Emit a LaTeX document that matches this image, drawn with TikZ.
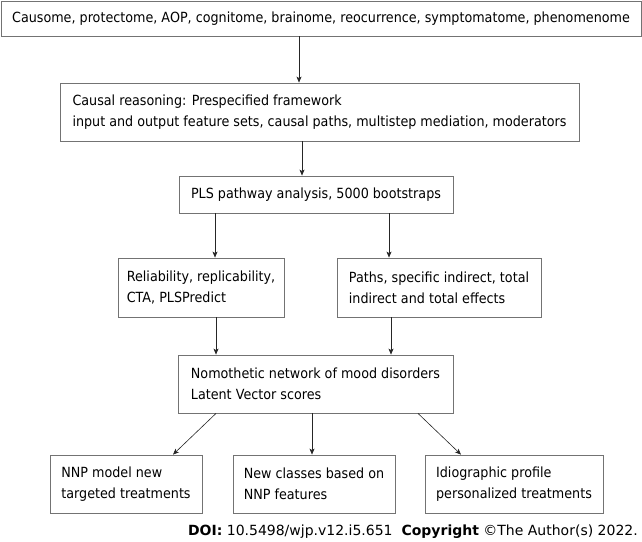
\documentclass[tikz,border=0pt]{standalone}
\usepackage{fontspec}
\setmainfont{DejaVu Sans}[FakeStretch=0.91]
\newfontfamily\doifont{DejaVu Sans}
\usetikzlibrary{arrows.meta}
\begin{document}
\begin{tikzpicture}[x=1pt,y=-1pt,
  box/.style={draw=black!55, line width=0.8pt, inner sep=0pt, align=left,
    font=\fontsize{14}{21}\selectfont},
  conn/.style={draw=black!85, line width=0.6pt,
    -{Stealth[length=6pt,width=5pt,inset=1.5pt]}}]
\useasboundingbox (0,0) rectangle (642,541);

\node[box, minimum width=640pt, minimum height=35pt] (b1) at (321,18.5)
  {Causome, protectome, AOP, cognitome, brainome, reocurrence, symptomatome, phenomenome};
\node[box, minimum width=519pt, minimum height=58pt] (b2) at (319.5,112)
  {Causal reasoning: Prespecified framework\\input and output feature sets, causal paths, multistep mediation, moderators};
\node[box, minimum width=274pt, minimum height=37pt] (b3) at (316,194.5)
  {PLS pathway analysis, 5000 bootstraps};
\node[box, minimum width=166pt, minimum height=59pt] (b4) at (201,287.5)
  {Reliability, replicability,\\CTA, PLSPredict};
\node[box, minimum width=204pt, minimum height=59pt] (b5) at (439,287.5)
  {Paths, specific indirect, total\\indirect and total effects};
\node[box, minimum width=275pt, minimum height=58pt] (b6) at (315.5,384)
  {Nomothetic network of mood disorders\\Latent Vector scores};
\node[box, minimum width=152pt, minimum height=58pt] (b7) at (126,484)
  {NNP model new\\targeted treatments};
\node[box, minimum width=162pt, minimum height=58pt] (b8) at (314,484)
  {New classes based on\\NNP features};
\node[box, minimum width=178pt, minimum height=58pt] (b9) at (514,484)
  {Idiographic profile\\personalized treatments};

\node[anchor=base east, inner sep=0pt, font=\doifont\fontsize{14}{16}\selectfont] (doi) at (638,535)
  {\textbf{DOI:} 10.5498/wjp.v12.i5.651\ \ \textbf{Copyright} \textcopyright The Author(s) 2022.};

\draw[conn] (b1.south -| 299,0) -- (b2.north -| 299,0);
\draw[conn] (b2.south -| 302,0) -- (b3.north -| 302,0);
\draw[conn] (b3.south -| 215,0) -- (b4.north -| 215,0);
\draw[conn] (b3.south -| 389,0) -- (b5.north -| 389,0);
\draw[conn] (b4.south -| 216,0) -- (b6.north -| 216,0);
\draw[conn] (b5.south -| 391,0) -- (b6.north -| 391,0);
\draw[conn] (b6.south -| 216,0) -- (b7.north -| 173,0);
\draw[conn] (b6.south -| 312,0) -- (b8.north -| 312,0);
\draw[conn] (b6.south -| 418,0) -- (b9.north -| 461,0);
\end{tikzpicture}
\end{document}
